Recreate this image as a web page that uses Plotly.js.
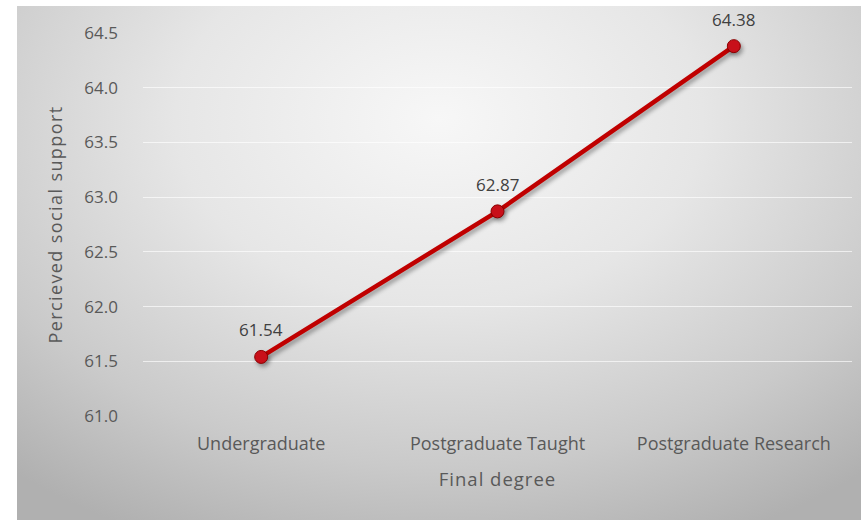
<!DOCTYPE html>
<html>
<head>
<meta charset="utf-8">
<script src="https://cdn.plot.ly/plotly-3.0.1.min.js"></script>
<style>
  html, body { margin: 0; padding: 0; background: #ffffff; }
  #wrap { position: relative; width: 861px; height: 520px; }
  #bg {
    position: absolute; left: 17px; top: 6px; width: 844px; height: 514px;
    background: radial-gradient(ellipse 78% 90% at 50% 22%, #f7f7f7 0%, #e6e6e6 40%, #cacaca 75%, #b0b0b0 100%);
  }
  #chart { position: absolute; left: 0; top: 0; width: 861px; height: 520px; }
  /* soft drop shadow under the series line and markers */
  #chart .scatterlayer .trace path.js-line { filter: drop-shadow(2px 3px 2px rgba(0,0,0,0.35)); }
  #chart .scatterlayer .trace .points path { filter: drop-shadow(2px 3px 2px rgba(0,0,0,0.35)); }
  /* airy axis titles */
  #chart .g-ytitle text { letter-spacing: 1.4px; }
  #chart .g-xtitle text { letter-spacing: 1px; }
</style>
</head>
<body>
<div id="wrap">
  <div id="bg"></div>
  <div id="chart"></div>
</div>
<script>
// Mean perceived social support by final degree
const degrees = ["Undergraduate", "Postgraduate Taught", "Postgraduate Research"];
const support = [61.54, 62.87, 64.38];
const yTicks = [61.0, 61.5, 62.0, 62.5, 63.0, 63.5, 64.0, 64.5];

const fontFamily = "'Open Sans', 'Noto Sans', sans-serif";

const trace = {
  type: "scatter",
  mode: "lines+markers",
  x: degrees,
  y: support,
  line: { color: "#c00000", width: 4.5 },
  marker: { color: "#c8101a", size: 13, line: { color: "#8a0000", width: 1 } },
  cliponaxis: false,
  hoverinfo: "x+y"
};

// value labels above each point
const labels = degrees.map((d, i) => ({
  x: d,
  y: support[i],
  text: support[i].toFixed(2),
  showarrow: false,
  yshift: 27,
  font: { family: fontFamily, size: 17, color: "#404040" }
}));

const layout = {
  width: 861,
  height: 520,
  margin: { l: 143, r: 9, t: 33, b: 104 },
  paper_bgcolor: "rgba(0,0,0,0)",
  plot_bgcolor: "rgba(0,0,0,0)",
  showlegend: false,
  font: { family: fontFamily, color: "#595959", size: 17 },
  annotations: labels,
  xaxis: {
    type: "category",
    range: [-0.5, 2.5],
    showgrid: false,
    zeroline: false,
    showline: false,
    ticks: "",
    tickfont: { family: fontFamily, size: 18, color: "#595959" },
    ticklabelstandoff: 15,
    title: { text: "Final degree", font: { family: fontFamily, size: 18.5, color: "#595959" }, standoff: 19 }
  },
  yaxis: {
    range: [61.0, 64.5],
    tickvals: yTicks,
    ticktext: yTicks.map(v => v.toFixed(1)),
    showgrid: true,
    gridcolor: "rgba(255,255,255,0.65)",
    gridwidth: 1,
    zeroline: false,
    showline: false,
    ticks: "",
    ticklabelstandoff: 24,
    tickfont: { family: fontFamily, size: 17, color: "#595959" },
    title: { text: "Percieved social support", font: { family: fontFamily, size: 18, color: "#595959" }, standoff: 17 }
  }
};

Plotly.newPlot("chart", [trace], layout, { displayModeBar: false, staticPlot: true });
</script>
</body>
</html>
